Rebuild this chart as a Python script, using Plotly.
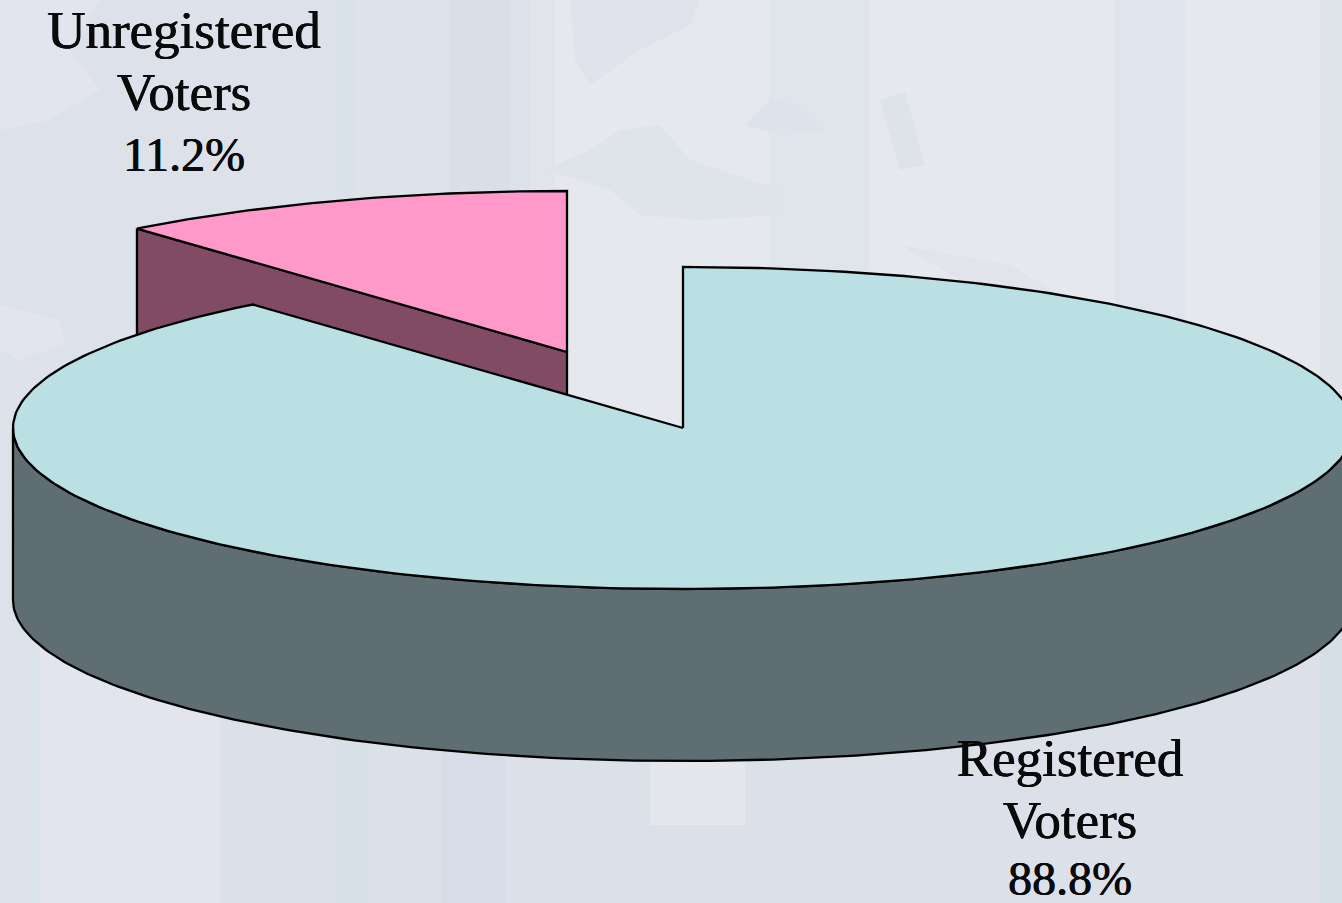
import numpy as np
import plotly.graph_objects as go

# ---- data ----
categories = ["Registered Voters", "Unregistered Voters"]
shares = [88.8, 11.2]
label_lines_registered = ["Registered", "Voters", "88.8%"]
label_lines_unregistered = ["Unregistered", "Voters", "11.2%"]

# ---- drawing geometry ----
W, H = 1342, 903
RX, RY, DEPTH = 670, 161, 172
CENTER_REG = (683, 428)
CENTER_UNR = (567, 352)
ANGLE_TRIM = 0.39   # the original's projection is very slightly off a pure ellipse angle
TOP_REG, SIDE_REG = "#BAE0E3", "#5E6E72"
TOP_UNR, SIDE_UNR = "#FF99C9", "#804B63"
INK = "#000000"
LINE_W = 2.3


def ell(center, deg, dy=0):
    t = np.radians(np.asarray(deg, dtype=float))
    return center[0] + RX * np.sin(t), center[1] - RY * np.cos(t) + dy


def closed(xs, ys):
    return list(xs) + [xs[0]], list(ys) + [ys[0]]


boundary = shares[0] / sum(shares) * 360 + ANGLE_TRIM

fig = go.Figure()


def poly(xs, ys, fill):
    x, y = closed(list(xs), list(ys))
    fig.add_trace(go.Scatter(x=x, y=y, mode="lines", fill="toself", fillcolor=fill,
                             line=dict(color=INK, width=LINE_W), hoverinfo="skip", showlegend=False))


# exploded small slice: cut-face, then top
ax, ay = ell(CENTER_UNR, boundary)
poly([ax, CENTER_UNR[0], CENTER_UNR[0], ax],
     [ay, CENTER_UNR[1], CENTER_UNR[1] + DEPTH, ay + DEPTH], SIDE_UNR)
a = np.linspace(boundary, 360, 60)
ux, uy = ell(CENTER_UNR, a)
poly([CENTER_UNR[0]] + list(ux), [CENTER_UNR[1]] + list(uy), TOP_UNR)

# large slice: outer wall, then top
a = np.linspace(90, 270, 200)
x1, y1 = ell(CENTER_REG, a)
x2, y2 = ell(CENTER_REG, a[::-1], DEPTH)
poly(list(x1) + list(x2), list(y1) + list(y2), SIDE_REG)
a = np.linspace(0, boundary, 300)
rx, ry = ell(CENTER_REG, a)
poly([CENTER_REG[0]] + list(rx), [CENTER_REG[1]] + list(ry), TOP_REG)


def label(lines, cx, ys):
    fig.add_trace(go.Scatter(x=[cx] * len(lines), y=ys, text=lines, mode="text",
                             textposition="middle center", cliponaxis=False,
                             textfont=dict(family="Liberation Serif", size=[53, 53, 48], color="#0A0A0A",
                                           shadow="0.5px 0 0 #0A0A0A, -0.3px 0 0 #0A0A0A"),
                             hoverinfo="skip", showlegend=False))


label(label_lines_unregistered, 184, [35, 97, 159])
label(label_lines_registered, 1070, [763, 825, 883])

# ---- soft background: bands of the faded map picture ----
bands = [
    (0, 0, 340, 590, "#DDE1E9"),
    (340, 0, 355, 590, "#DAE2E9"),
    (355, 0, 450, 590, "#DEE2EA"),
    (450, 0, 510, 590, "#D9DFE8"),
    (510, 0, 530, 590, "#DDE1E9"),
    (530, 0, 555, 590, "#E1E4EB"),
    (769, 0, 869, 590, "#E0E4EB"),
    (1115, 0, 1185, 590, "#E0E4EC"),
    (1320, 0, 1342, 590, "#DFE3EA"),
    (0, 590, 40, 903, "#DBE2EA"),
    (40, 590, 220, 903, "#E2E5ED"),
    (220, 590, 1342, 903, "#DCE0E9"),
    (333, 590, 373, 903, "#D8E0E8"),
    (442, 590, 505, 903, "#D6DDE8"),
    (1170, 590, 1200, 903, "#DAE1E9"),
    (1320, 590, 1342, 903, "#D6DFE8"),
    (650, 590, 745, 825, "#E4E7EC"),
]
shapes = [dict(type="rect", xref="x", yref="y", x0=b[0], y0=b[1], x1=b[2], y1=b[3],
               fillcolor=b[4], line=dict(width=0), layer="below") for b in bands]

blobs = [
    ("M 545 170 L 590 150 L 620 130 L 660 125 L 690 160 L 750 180 L 785 190 L 780 215 L 700 220 L 640 215 L 610 190 Z", "#DFE3EA"),
    ("M 570 0 L 700 0 L 690 25 L 640 50 L 590 85 L 575 60 Z", "#E0E3EB"),
    ("M 745 125 L 770 100 L 800 105 L 825 130 L 780 135 Z", "#DCE3EA"),
    ("M 880 100 L 905 92 L 925 165 L 900 170 L 890 135 Z", "#DEE3EA"),
    ("M 900 245 L 1010 265 L 1060 295 L 960 280 Z", "#E1E4EB"),
    ("M 0 0 L 100 0 L 70 50 L 100 90 L 50 120 L 0 130 Z", "#E2E5EE"),
    ("M 0 305 L 60 320 L 65 345 L 20 360 L 0 350 Z", "#E2E5EE"),
]
shapes += [dict(type="path", xref="x", yref="y", path=p, fillcolor=c, line=dict(width=0), layer="below")
           for p, c in blobs]

fig.update_layout(
    width=W, height=H, margin=dict(l=0, r=0, t=0, b=0),
    paper_bgcolor="#E5E8EC", plot_bgcolor="#E5E8EC", shapes=shapes, showlegend=False,
    xaxis=dict(range=[0, W], visible=False, fixedrange=True),
    yaxis=dict(range=[H, 0], visible=False, fixedrange=True),
)
fig.write_html("out.html", config=dict(displayModeBar=False),
               post_script="document.body.style.margin='0';document.body.style.overflow='hidden';")
